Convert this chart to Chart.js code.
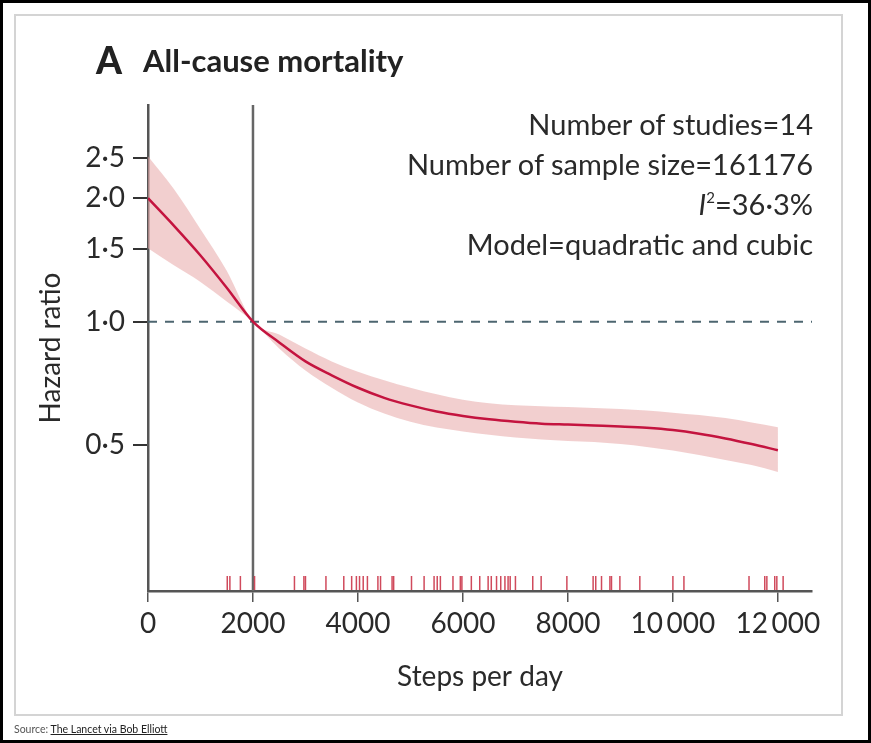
<!DOCTYPE html>
<html>
<head>
<meta charset="utf-8">
<script src="https://cdn.jsdelivr.net/npm/chart.js@4.4.1/dist/chart.umd.min.js"></script>
<style>
  body { margin:0; width:871px; height:743px; position:relative; overflow:hidden; background:#fff; font-family:Lato, "Noto Sans", sans-serif; }
  #frame { position:absolute; left:0; top:0; width:871px; height:743px; box-sizing:border-box; border:3px solid #000; }
  #box { position:absolute; left:14px; top:14px; width:829px; height:702px; box-sizing:border-box; border:2px solid #d4d4d4; }
  #c { position:absolute; left:0; top:0; }
  #title { position:absolute; left:96px; top:40px; height:40px; line-height:40px; color:#222; font-weight:900; white-space:nowrap; }
  #title .big { font-size:37px; margin-right:21px; vertical-align:top; }
  #title .txt { font-size:31px; font-weight:bold; vertical-align:top; }
  #stats { position:absolute; right:58px; top:104px; text-align:right; font-size:29px; line-height:40px; color:#2a2a2a; white-space:nowrap; }
  #stats sup { font-size:15px; vertical-align:12px; line-height:0; }
  #source { position:absolute; left:14px; top:723px; font-size:10.5px; color:#555; font-family:Lato, sans-serif; }
  #source u { color:#222; }
</style>
</head>
<body>
<div id="frame"></div>
<div id="box"></div>
<canvas id="c" width="871" height="743"></canvas>
<div id="title"><span class="big">A</span><span class="txt">All-cause mortality</span></div>
<div id="stats">
  <div>Number of studies=14</div>
  <div>Number of sample size=161176</div>
  <div><i>I</i><sup>2</sup>=36·3%</div>
  <div>Model=quadratic and cubic</div>
</div>
<div id="source">Source: <u>The Lancet via Bob Elliott</u></div>

<script>
const steps = [0, 500, 1000, 1500, 2000, 2500, 3000, 3500, 4000, 4500, 5000, 5500, 6000,
  6500, 7000, 7500, 8000, 8500, 9000, 9500, 10000, 10500, 11000, 11500, 12000];
// pooled hazard ratio and 95% CI
const hazard = [2.00, 1.71, 1.45, 1.21, 1.00, 0.89, 0.80, 0.74, 0.69, 0.652, 0.625, 0.604, 0.589,
  0.578, 0.570, 0.564, 0.561, 0.558, 0.555, 0.551, 0.544, 0.533, 0.519, 0.503, 0.486];
const upperCI = [2.53, 2.10, 1.68, 1.33, 1.00, 0.93, 0.86, 0.80, 0.755, 0.72, 0.69, 0.665, 0.645,
  0.632, 0.625, 0.622, 0.619, 0.616, 0.612, 0.607, 0.600, 0.592, 0.582, 0.568, 0.553];
const lowerCI = [1.51, 1.37, 1.25, 1.12, 1.00, 0.86, 0.76, 0.69, 0.635, 0.597, 0.57, 0.552, 0.54,
  0.53, 0.522, 0.516, 0.512, 0.509, 0.503, 0.495, 0.485, 0.473, 0.46, 0.447, 0.43];
// study data points (rug along x axis)
const rugSteps = [1510, 1560, 1760, 2030, 2790, 2970, 3000, 3390, 3730, 3880, 3970, 4030, 4100,
  4180, 4380, 4430, 4650, 4680, 5020, 5260, 5450, 5510, 5570, 5810, 5950, 5980, 6160, 6320,
  6480, 6540, 6640, 6720, 6800, 6860, 6900, 7000, 7330, 7490, 7980, 8480, 8530, 8640, 8800,
  8830, 8990, 9370, 10000, 10210, 11450, 11750, 11790, 11940, 11980, 12100];
const refSteps = 2000;
const xTicks = [0, 2000, 4000, 6000, 8000, 10000, 12000];
const yTicks = [0.5, 1.0, 1.5, 2.0, 2.5];
const xMax = 12650;
const yMin = 0.2204, yMax = 3.375;

const CURVE = '#c4143f';
const BAND = 'rgba(232, 168, 168, 0.55)';
const AXIS = '#555';
const FONT = 'Lato, "Noto Sans", sans-serif';

const pts = arr => steps.map((s, i) => ({x: s, y: arr[i]}));

const rugPlugin = {
  id: 'rug',
  afterDatasetsDraw(chart) {
    const {ctx, chartArea, scales} = chart;
    ctx.save();
    ctx.strokeStyle = '#d04a5c';
    ctx.lineWidth = 1.5;
    rugSteps.forEach(v => {
      const x = scales.x.getPixelForValue(v);
      ctx.beginPath();
      ctx.moveTo(x, chartArea.bottom - 15);
      ctx.lineTo(x, chartArea.bottom - 1);
      ctx.stroke();
    });
    ctx.restore();
  }
};

const smooth = {pointRadius: 0, cubicInterpolationMode: 'monotone'};

new Chart(document.getElementById('c'), {
  type: 'line',
  data: {
    datasets: [
      {...smooth, data: pts(upperCI), borderWidth: 0, fill: '+1', backgroundColor: BAND, order: 4},
      {...smooth, data: pts(lowerCI), borderWidth: 0, fill: false, order: 5},
      {...smooth, data: pts(hazard), borderColor: CURVE, borderWidth: 2.5, fill: false, order: 0},
      {data: [{x: 0, y: 1}, {x: xMax, y: 1}], borderColor: '#4d6670', borderWidth: 2, borderDash: [9, 8], pointRadius: 0, fill: false, order: 2},
      {data: [{x: refSteps, y: yMin}, {x: refSteps, y: yMax}], borderColor: '#666', borderWidth: 2.5, pointRadius: 0, fill: false, order: 1}
    ]
  },
  options: {
    responsive: false,
    animation: false,
    layout: {padding: {left: 30, right: 59, top: 105, bottom: 45}},
    plugins: {legend: {display: false}, tooltip: {enabled: false}},
    scales: {
      x: {
        type: 'linear', min: 0, max: xMax,
        afterFit: s => { s.height = 107; },
        afterBuildTicks: s => { s.ticks = xTicks.map(v => ({value: v})); },
        border: {display: true, color: AXIS, width: 2.5},
        grid: {drawOnChartArea: false, drawTicks: true, tickLength: 11, color: AXIS, lineWidth: 1.5},
        ticks: {
          autoSkip: false, maxRotation: 0, padding: 5, color: '#2a2a2a',
          font: {family: FONT, size: 28},
          callback: v => v >= 10000 ? String(v).replace(/(\d{3})$/, '\u2009$1') : String(v)
        },
        title: {display: true, text: 'Steps per day', color: '#2a2a2a', font: {family: FONT, size: 28}, padding: 4}
      },
      y: {
        type: 'logarithmic', min: yMin, max: yMax,
        afterFit: s => { s.width = 118; },
        afterBuildTicks: s => { s.ticks = yTicks.map(v => ({value: v})); },
        border: {display: true, color: AXIS, width: 2.5},
        grid: {drawOnChartArea: false, drawTicks: true, tickLength: 15, color: '#333', lineWidth: 2},
        ticks: {
          autoSkip: false, padding: 8, color: '#2a2a2a',
          font: {family: FONT, size: 28},
          callback: v => Number(v).toFixed(1).replace('.', '·')
        },
        title: {display: true, text: 'Hazard ratio', color: '#2a2a2a', font: {family: FONT, size: 28}, padding: 4}
      }
    }
  },
  plugins: [rugPlugin]
});
</script>
</body>
</html>
